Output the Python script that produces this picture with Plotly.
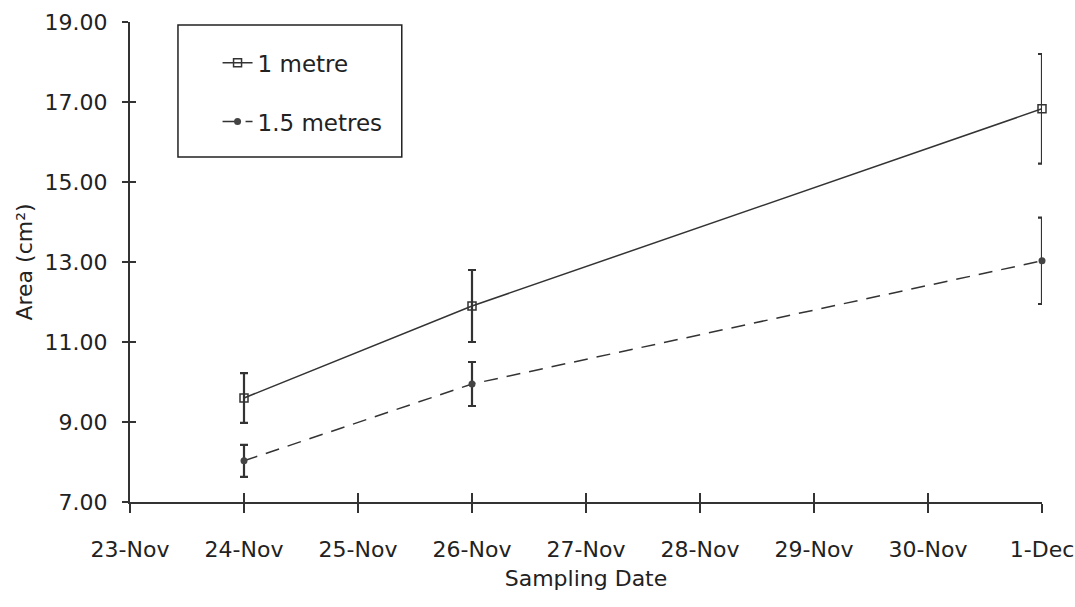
import plotly.graph_objects as go

dates = ["2000-11-24", "2000-11-26", "2000-12-01"]
one_m = [9.6, 11.9, 16.83]
one_m_err = [0.62, 0.9, 1.37]
one_half_m = [8.03, 9.95, 13.03]
one_half_m_err = [0.4, 0.55, 1.08]
xtick_vals = ["2000-11-23", "2000-11-24", "2000-11-25", "2000-11-26", "2000-11-27",
              "2000-11-28", "2000-11-29", "2000-11-30", "2000-12-01"]
xtick_text = ["23-Nov", "24-Nov", "25-Nov", "26-Nov", "27-Nov", "28-Nov", "29-Nov", "30-Nov", "1-Dec"]
ytick_vals = [7, 9, 11, 13, 15, 17, 19]
ytick_text = ["7.00", "9.00", "11.00", "13.00", "15.00", "17.00", "19.00"]

ink = "#333333"
font = "DejaVu Sans"

fig = go.Figure()
fig.add_trace(go.Scatter(
    x=dates, y=one_m, name="1 metre", mode="lines+markers", legendgroup="a",
    cliponaxis=False,
    line=dict(color=ink, width=1.5),
    marker=dict(symbol="square-open", size=8, color=ink, line=dict(width=1.5)),
    error_y=dict(type="data", array=one_m_err, color=ink, thickness=2.2, width=4),
))
fig.add_trace(go.Scatter(
    x=dates, y=one_half_m, name="1.5 metres", mode="lines+markers", legendgroup="b",
    cliponaxis=False,
    line=dict(color=ink, width=1.5, dash="14px,9px"),
    marker=dict(symbol="circle", size=7, color="#444444"),
    error_y=dict(type="data", array=one_half_m_err, color=ink, thickness=2.2, width=4),
))
# invisible trace so the overlay axes (inside tick halves) are drawn
fig.add_trace(go.Scatter(x=[xtick_vals[0]], y=[7], xaxis="x2", yaxis="y2",
                         mode="markers", marker=dict(opacity=0), showlegend=False,
                         hoverinfo="skip"))

xr = ["2000-11-23", "2000-12-01"]
fig.update_layout(
    width=1075, height=607,
    paper_bgcolor="white", plot_bgcolor="white",
    margin=dict(l=130, r=33, t=22, b=105),
    font=dict(family=font, color="#222222", size=22),
    showlegend=True,
    legend=dict(x=0.096, y=0.96, xanchor="left", yanchor="top",
                borderwidth=0, bgcolor="rgba(0,0,0,0)",
                font=dict(size=23), tracegroupgap=26),
    shapes=[dict(type="rect", xref="paper", yref="paper",
                 x0=0.0526, x1=0.298, y0=0.719, y1=0.994,
                 line=dict(color="#222222", width=1.5), fillcolor="white", layer="below")],
    xaxis=dict(range=xr, tickvals=xtick_vals, ticktext=xtick_text, automargin=False,
               ticklabeloverflow="allow",
               showgrid=False, zeroline=False, showline=True, linecolor=ink, linewidth=2,
               ticks="outside", ticklen=9, tickwidth=1.5, tickcolor=ink,
               ticklabelstandoff=18,
               title=dict(text="Sampling Date", standoff=9, font=dict(size=22))),
    yaxis=dict(range=[7, 19], tickvals=ytick_vals, ticktext=ytick_text, automargin=False,
               showgrid=False, zeroline=False, showline=True, linecolor=ink, linewidth=2,
               ticks="outside", ticklen=6, tickwidth=1.5, tickcolor=ink,
               ticklabelstandoff=10,
               title=dict(text="Area (cm²)", standoff=6, font=dict(size=22))),
    xaxis2=dict(range=xr, tickvals=xtick_vals, overlaying="x", anchor="y2", automargin=False,
                showticklabels=False, showgrid=False, zeroline=False, showline=False,
                ticks="inside", ticklen=9, tickwidth=1.5, tickcolor=ink),
    yaxis2=dict(range=[7, 19], tickvals=ytick_vals, overlaying="y", anchor="x2", automargin=False,
                showticklabels=False, showgrid=False, zeroline=False, showline=False,
                ticks="inside", ticklen=6, tickwidth=1.5, tickcolor=ink),
)

fig.write_html("out.html", config={"displayModeBar": False},
               post_script="document.body.style.margin='0';document.body.style.overflow='hidden';")
